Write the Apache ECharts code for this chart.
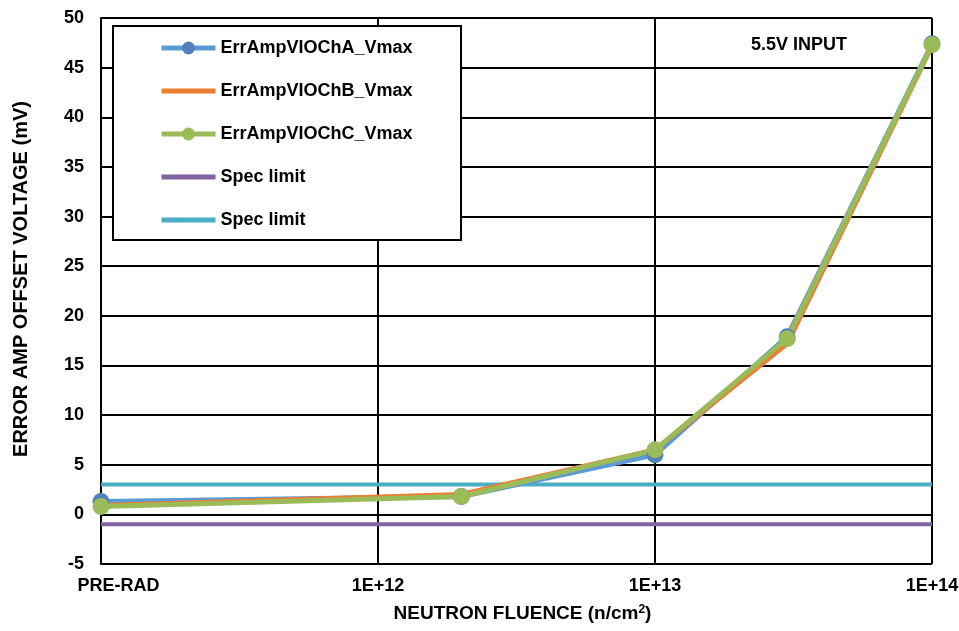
<!DOCTYPE html>
<html>
<head>
<meta charset="utf-8">
<script src="https://cdn.jsdelivr.net/npm/echarts@6/dist/echarts.min.js"></script>
<style>html,body{margin:0;padding:0;background:#fff;}#c{width:959px;height:631px;}</style>
</head>
<body>
<div id="c"></div>
<script>
var fluence = [1e11, 2e12, 1e13, 3e13, 1e14];
var chA = [1.3, 1.8, 6.0, 17.9, 47.4];
var chB = [0.9, 2.0, 6.5, 17.2, 47.2];
var chC = [0.8, 1.8, 6.5, 17.7, 47.3];
var specLow = [-1, -1];
var specHigh = [3, 3];
var specX = [1e11, 1e14];
var xTickLabels = {1e11: 'PRE-RAD', 1e12: '1E+12', 1e13: '1E+13', 1e14: '1E+14'};

function pairs(xs, ys) { return xs.map(function (x, i) { return [x, ys[i]]; }); }
var FONT = "'Liberation Sans', Arial, sans-serif";

var chart = echarts.init(document.getElementById('c'));
chart.setOption({
  animation: false,
  backgroundColor: '#fff',
  textStyle: { fontFamily: FONT },
  grid: { left: 101, right: 27, top: 18, bottom: 67, outerBoundsMode: 'none', containLabel: false },
  xAxis: {
    type: 'log', logBase: 10, min: 1e11, max: 1e14,
    name: '{t|NEUTRON FLUENCE (n/cm}{s|2}{t|)}', nameLocation: 'middle', nameGap: 40,
    nameTextStyle: {
      fontFamily: FONT, fontWeight: 'bold', fontSize: 19, color: '#000', padding: [0, 0, 0, 12],
      rich: {
        t: { fontFamily: FONT, fontWeight: 'bold', fontSize: 19, color: '#000' },
        s: { fontFamily: FONT, fontWeight: 'bold', fontSize: 12, color: '#000', verticalAlign: 'top', padding: [0, 0, 8, 0] }
      }
    },
    axisLine: { lineStyle: { color: '#000', width: 2 } },
    axisTick: { show: false },
    splitLine: { show: true, lineStyle: { color: '#000', width: 2 } },
    axisLabel: {
      margin: 13, color: '#000', fontFamily: FONT, fontWeight: 'bold', fontSize: 18,
      formatter: function (v) {
        var k = Math.round(Math.log10(v));
        var s = xTickLabels[Math.pow(10, k)] || '';
        return k === 11 ? '{p|' + s + '}' : s;
      },
      rich: { p: { padding: [0, 0, 0, 35], fontFamily: FONT, fontWeight: 'bold', fontSize: 18, color: '#000' } }
    }
  },
  yAxis: {
    type: 'value', min: -5, max: 50, interval: 5,
    name: 'ERROR AMP OFFSET VOLTAGE (mV)', nameLocation: 'middle', nameGap: 70,
    nameTextStyle: { fontFamily: FONT, fontWeight: 'bold', fontSize: 20, color: '#000', padding: [0, 0, 0, 24] },
    axisLine: { show: true, lineStyle: { color: '#000', width: 2 } },
    axisTick: { show: false },
    splitLine: { show: true, lineStyle: { color: '#000', width: 2 } },
    axisLabel: { margin: 17, color: '#000', fontFamily: FONT, fontWeight: 'bold', fontSize: 18 }
  },
  legend: {
    orient: 'vertical', left: 154, top: 34, itemWidth: 54, itemHeight: 16, itemGap: 25,
    z: 5,
    lineStyle: { width: 5 },
    textStyle: { fontFamily: FONT, fontWeight: 'bold', fontSize: 18, color: '#000' },
    data: [
      'ErrAmpVIOChA_Vmax',
      { name: 'ErrAmpVIOChB_Vmax', itemStyle: { opacity: 0 } },
      'ErrAmpVIOChC_Vmax',
      { name: 'Spec limit', itemStyle: { opacity: 0 } },
      { name: 'Spec limit ', itemStyle: { opacity: 0 } }
    ],
    formatter: function (n) { return n.trim(); }
  },
  graphic: [
    { type: 'rect', z: 3, shape: { x: 113, y: 26, width: 348, height: 214 },
      style: { fill: '#fff', stroke: '#000', lineWidth: 2 } },
    { type: 'text', z: 3, left: 751, top: 36,
      style: { text: '5.5V INPUT', font: 'bold 18px ' + FONT, fill: '#000' } }
  ],
  series: [
    { name: 'Spec limit', type: 'line', data: pairs(specX, specLow), symbol: 'none',
      lineStyle: { color: '#8064A2', width: 4 }, itemStyle: { color: '#8064A2' } },
    { name: 'Spec limit ', type: 'line', data: pairs(specX, specHigh), symbol: 'none',
      lineStyle: { color: '#4BACC6', width: 4 }, itemStyle: { color: '#4BACC6' } },
    { name: 'ErrAmpVIOChA_Vmax', type: 'line', data: pairs(fluence, chA), symbol: 'circle', symbolSize: 17,
      lineStyle: { color: '#5B9BD5', width: 5 }, itemStyle: { color: '#4F81BD' } },
    { name: 'ErrAmpVIOChB_Vmax', type: 'line', data: pairs(fluence, chB), symbol: 'none',
      lineStyle: { color: '#ED7D31', width: 5 }, itemStyle: { color: '#ED7D31' } },
    { name: 'ErrAmpVIOChC_Vmax', type: 'line', data: pairs(fluence, chC), symbol: 'circle', symbolSize: 17,
      lineStyle: { color: '#9BBB59', width: 5 }, itemStyle: { color: '#9BBB59' } }
  ]
});
</script>
</body>
</html>
